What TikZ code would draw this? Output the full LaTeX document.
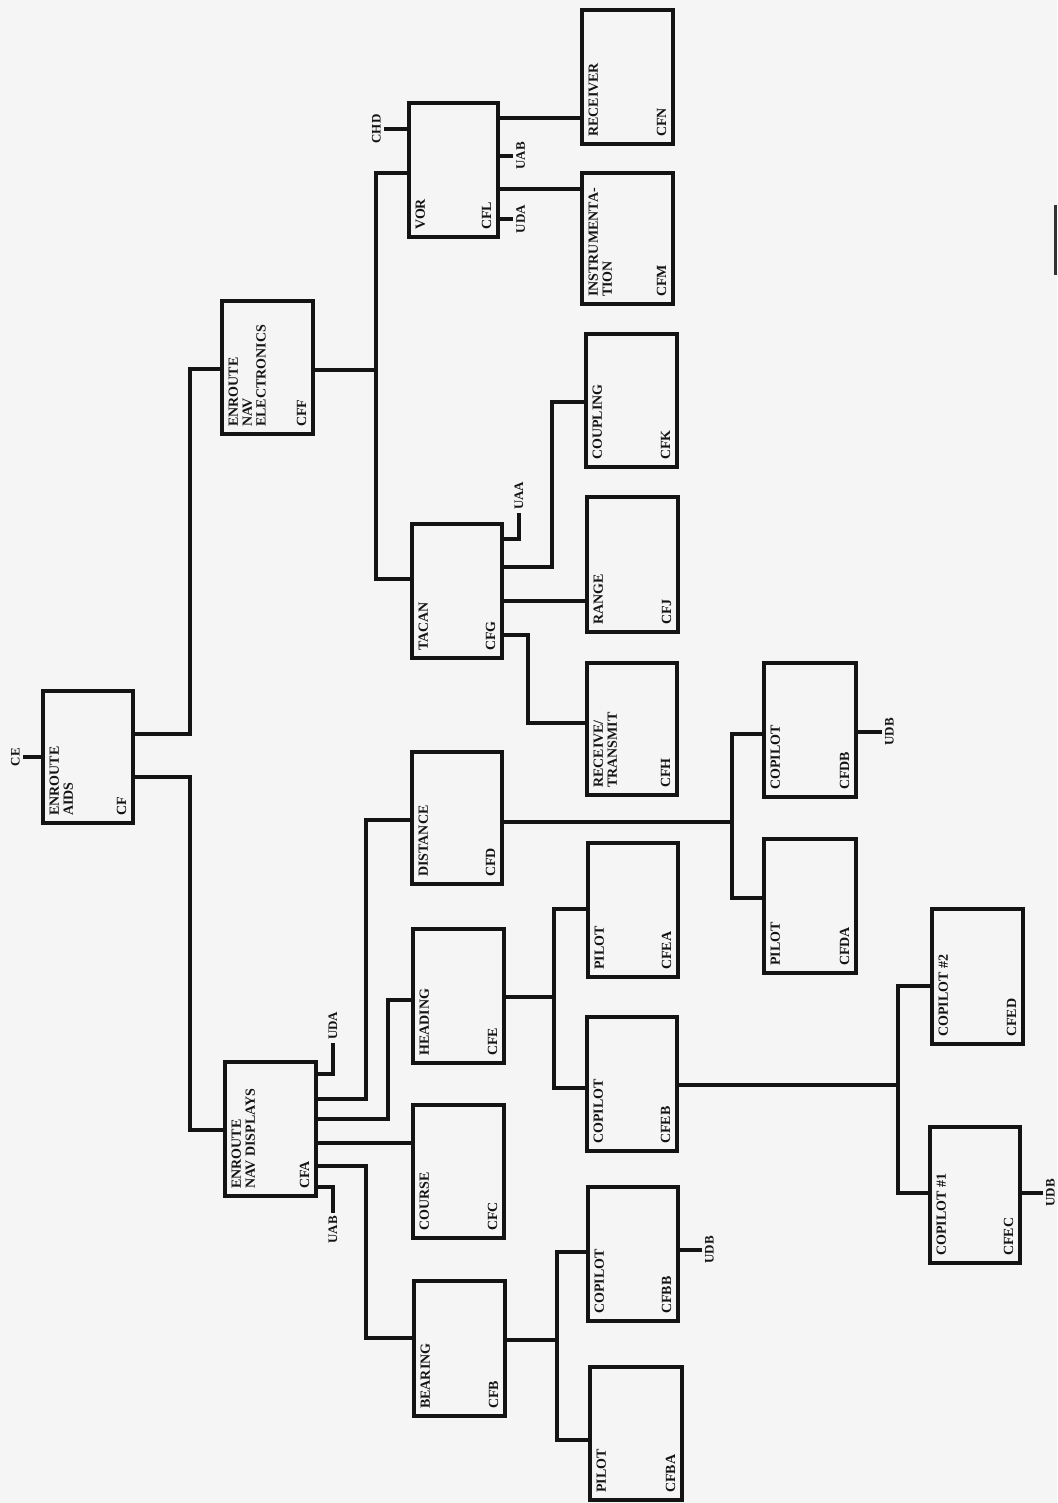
\documentclass[tikz,border=0pt]{standalone}
\usepackage{fontspec}
\setmainfont{Liberation Serif}
\tikzset{
  ink/.style={line width=3.4pt, draw=black!92},
  box/.style={ink, rectangle, inner sep=0pt, outer sep=0pt},
  nm/.style={rotate=90, inner sep=0pt, align=left, text=black!92,
     font=\bfseries\fontsize{14}{13.8}\selectfont},
  lbl/.style={rotate=90, inner sep=1.5pt, text=black!92,
     font=\bfseries\fontsize{13}{13}\selectfont},
}
\newcommand\drawbox[7]{%
  \node[box, minimum width={(#4-#2)*1pt}, minimum height={(#5-#3)*1pt}] (#1) at ({(#2+#4)/2},{(#3+#5)/2}) {};
  \node[nm, anchor=north west] (#1-t) at ([xshift=6.5pt,yshift=7pt]#1.south west) {#6};
  \node[nm, anchor=south west] (#1-c) at ([xshift=-6.5pt,yshift=7pt]#1.south east) {#7};
}
\begin{document}
\begin{tikzpicture}[x=1pt,y=-1pt]
\fill[black!4] (0,0) rectangle (1057,1503);
\useasboundingbox (0,0) rectangle (1057,1503);
\fill[black!80] (1054,205) rectangle (1057,275);

% boxes
\drawbox{cf}{43}{691}{133}{823}{ENROUTE\\AIDS}{CF}
\drawbox{cff}{222}{301}{313}{434}{ENROUTE\\NAV\\ELECTRONICS}{CFF}
\drawbox{cfl}{409}{103}{498}{237}{VOR}{CFL}
\drawbox{cfn}{582}{10}{673}{144}{RECEIVER}{CFN}
\drawbox{cfm}{582}{173}{673}{304}{INSTRUMENTA-\\TION}{CFM}
\drawbox{cfg}{412}{524}{502}{658}{TACAN}{CFG}
\drawbox{cfk}{586}{334}{677}{467}{COUPLING}{CFK}
\drawbox{cfj}{587}{497}{678}{632}{RANGE}{CFJ}
\drawbox{cfh}{587}{663}{677}{795}{RECEIVE/\\TRANSMIT}{CFH}
\drawbox{cfd}{412}{752}{502}{884}{DISTANCE}{CFD}
\drawbox{cfe}{413}{929}{504}{1063}{HEADING}{CFE}
\drawbox{cfea}{588}{843}{678}{977}{PILOT}{CFEA}
\drawbox{cfeb}{587}{1017}{677}{1151}{COPILOT}{CFEB}
\drawbox{cfc}{413}{1105}{504}{1238}{COURSE}{CFC}
\drawbox{cfa}{225}{1062}{316}{1196}{ENROUTE\\NAV DISPLAYS}{CFA}
\drawbox{cfb}{414}{1281}{505}{1416}{BEARING}{CFB}
\drawbox{cfbb}{588}{1187}{678}{1321}{COPILOT}{CFBB}
\drawbox{cfba}{590}{1367}{682}{1500}{PILOT}{CFBA}
\drawbox{cfdb}{764}{663}{856}{797}{COPILOT}{CFDB}
\drawbox{cfda}{764}{839}{856}{973}{PILOT}{CFDA}
\drawbox{cfed}{932}{909}{1023}{1044}{COPILOT \#2}{CFED}
\drawbox{cfec}{930}{1127}{1020}{1263}{COPILOT \#1}{CFEC}

% connectors
\draw[ink] (cf.east|-0,734) -- (190,734) |- (cff.west|-0,369);
\draw[ink] (cf.east|-0,777) -- (190,777) |- (cfa.west|-0,1130);
\draw[ink] (cf.west|-0,757) -- (23,757) node[lbl, anchor=south] (ce) {CE};

\draw[ink] (cff.east|-0,370) -- (376,370) |- (cfl.west|-0,173);
\draw[ink] (376,370) |- (cfg.west|-0,579);
\draw[ink] (cfl.west|-0,129) -- (384,129) node[lbl, anchor=south] (chd) {CHD};
\draw[ink] (cfl.east|-0,118) -- (cfn.west|-0,118);
\draw[ink] (cfl.east|-0,156) -- (513,156) node[lbl, anchor=north] (uab1) {UAB};
\draw[ink] (cfl.east|-0,189) -- (cfm.west|-0,189);
\draw[ink] (cfl.east|-0,219) -- (513,219) node[lbl, anchor=north] (uda1) {UDA};

\draw[ink] (cfg.east|-0,539) -| (519,513) node[lbl, anchor=west] (uaa) {UAA};
\draw[ink] (cfg.east|-0,567) -| (552,402) -- (cfk.west|-0,402);
\draw[ink] (cfg.east|-0,601) -- (cfj.west|-0,601);
\draw[ink] (cfg.east|-0,635) -| (528,723) -- (cfh.west|-0,723);

\draw[ink] (cfa.east|-0,1074) -| (333,1043) node[lbl, anchor=west] (uda2) {UDA};
\draw[ink] (cfa.east|-0,1099) -| (366,820) -- (cfd.west|-0,820);
\draw[ink] (cfa.east|-0,1119) -| (388,1000) -- (cfe.west|-0,1000);
\draw[ink] (cfa.east|-0,1143) -- (cfc.west|-0,1143);
\draw[ink] (cfa.east|-0,1166) -| (366,1338) -- (cfb.west|-0,1338);
\draw[ink] (cfa.east|-0,1187) -| (333,1213) node[lbl, anchor=east] (uab2) {UAB};

\coordinate (je) at (554,997);
\draw[ink] (cfe.east|-0,997) -- (je);
\draw[ink] (cfea.west|-0,909) -- (554,909) -- (554,1088) -- (cfeb.west|-0,1088);

\coordinate (jeb) at (898,1085);
\draw[ink] (cfeb.east|-0,1085) -- (jeb);
\draw[ink] (cfed.west|-0,986) -- (898,986) -- (898,1193) -- (cfec.west|-0,1193);
\draw[ink] (cfec.east|-0,1193) -- (1043,1193) node[lbl, anchor=north] (udb3) {UDB};

\coordinate (jd) at (732,822);
\draw[ink] (cfd.east|-0,822) -- (jd);
\draw[ink] (cfdb.west|-0,734) -- (732,734) -- (732,898) -- (cfda.west|-0,898);
\draw[ink] (cfdb.east|-0,732) -- (882,732) node[lbl, anchor=north] (udb1) {UDB};

\coordinate (jb) at (557,1340);
\draw[ink] (cfb.east|-0,1340) -- (jb);
\draw[ink] (cfbb.west|-0,1252) -- (557,1252) -- (557,1440) -- (cfba.west|-0,1440);
\draw[ink] (cfbb.east|-0,1250) -- (702,1250) node[lbl, anchor=north] (udb2) {UDB};
\end{tikzpicture}
\end{document}
